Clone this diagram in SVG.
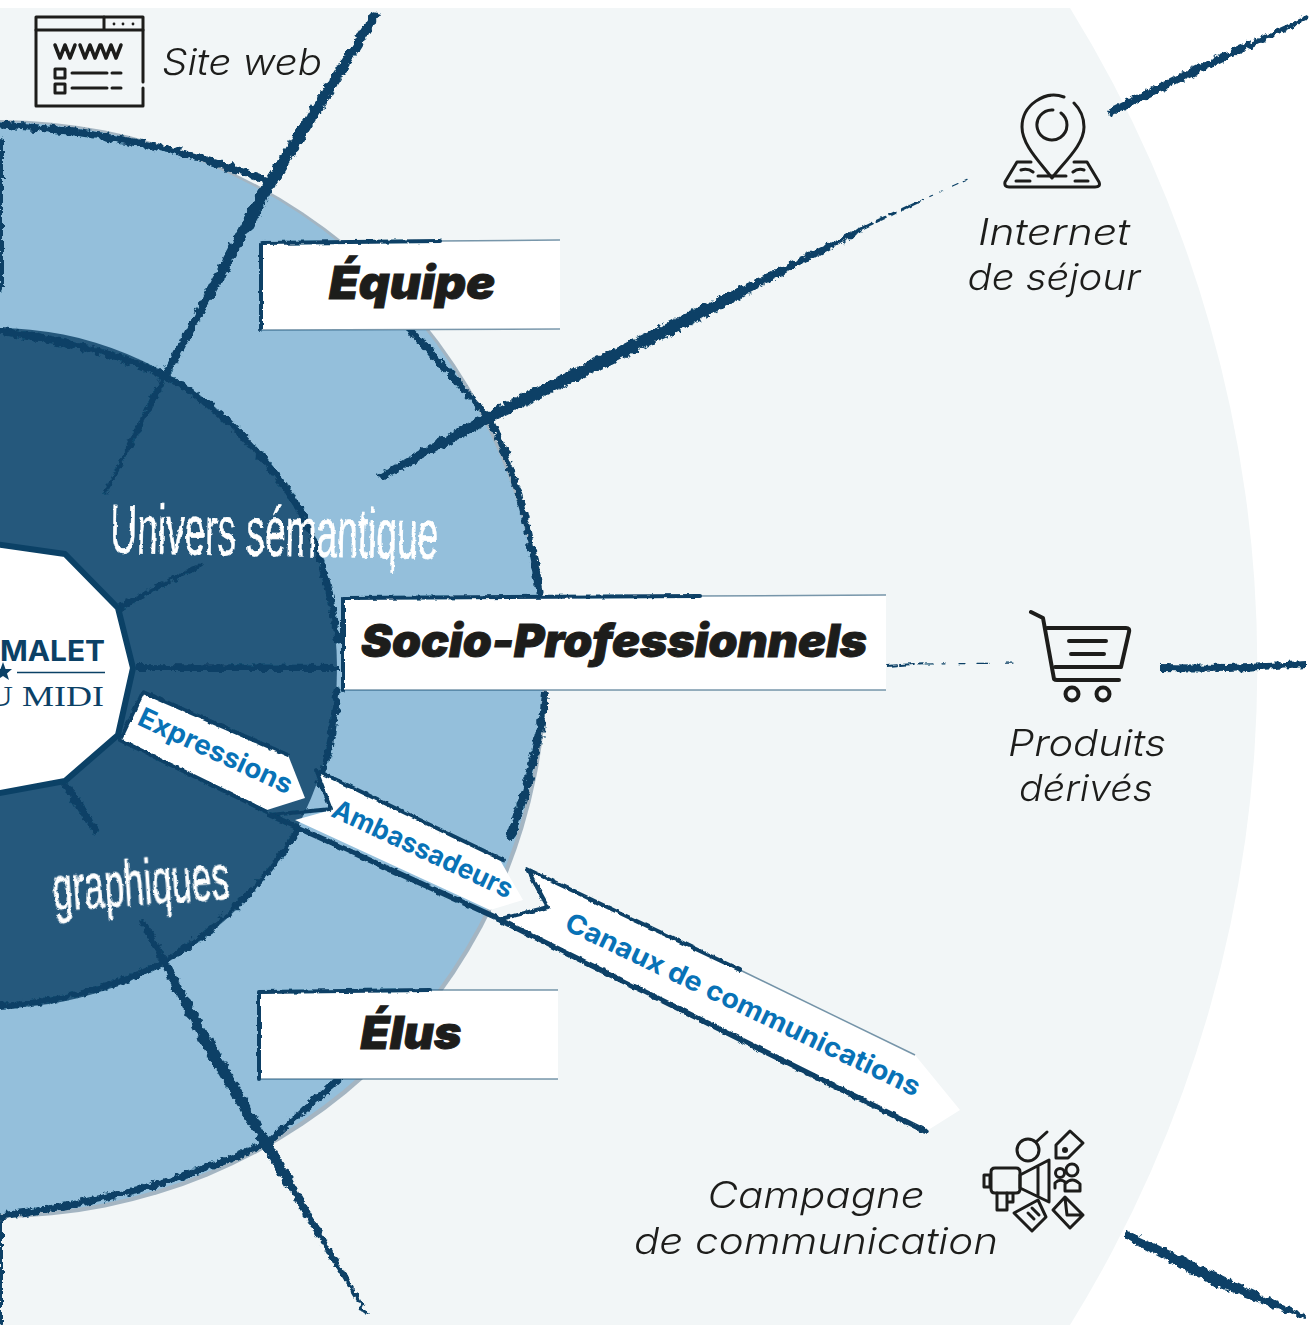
<svg xmlns="http://www.w3.org/2000/svg" width="1310" height="1325" viewBox="0 0 1310 1325">
<style>
.ink{fill:#0b4166}
.ln{fill:none;stroke:#0b4166;stroke-linecap:round;stroke-linejoin:round}
.fade{fill:none;stroke:#0b4166;stroke-width:1.500;stroke-opacity:.55}
.ic{fill:none;stroke:#1d1d1b;stroke-linecap:round;stroke-linejoin:round}
.lab{font-family:Inter,"Liberation Sans",sans-serif;font-style:italic;font-weight:300;font-size:37px;fill:#1d1d1b;text-anchor:middle}
.hd{font-family:Inter,"Liberation Sans",sans-serif;font-style:italic;font-weight:900;font-size:45px;fill:#1d1d1b;text-anchor:middle;stroke:#1d1d1b;stroke-width:1}
.tag{font-family:Inter,"Liberation Sans",sans-serif;font-weight:700;font-size:27px;fill:#0872b6}
.brush{font-family:"Liberation Sans Narrow","Liberation Sans",sans-serif;fill:#fff;stroke:#fff;stroke-width:.6}
</style>
<defs>
<filter id="rough" filterUnits="userSpaceOnUse" x="0" y="0" width="1310" height="1325">
<feTurbulence type="fractalNoise" baseFrequency="0.16" numOctaves="4" seed="4"/>
<feDisplacementMap in="SourceGraphic" scale="8" xChannelSelector="R" yChannelSelector="G"/>
</filter>
<filter id="soft" filterUnits="userSpaceOnUse" x="0" y="0" width="1310" height="1325">
<feTurbulence type="fractalNoise" baseFrequency="0.14" numOctaves="3" seed="9"/>
<feDisplacementMap in="SourceGraphic" scale="3.500" xChannelSelector="R" yChannelSelector="G"/>
</filter>
</defs>

<g id="rings">
<rect width="1310" height="1325" fill="#fff"/>
<path d="M0 8H1070A1251 1251 0 0 1 1070 1325H0Z" fill="#f2f6f7"/>
<circle cx="-2" cy="669" r="549" fill="#a4b5c2"/>
<circle cx="-3" cy="668" r="546" fill="#94bfdb"/>
<circle cx="-3" cy="668" r="340" fill="#25587c"/>
</g>

<g id="connectors" filter="url(#rough)">
<!-- outer ring outline -->
<path class="ln" stroke-width="7" d="M0 125C95 130 190 150 270 182"/>
<path class="ln" stroke-width="7" d="M410 330L490 418C515 470 530 530 540 592"/>
<path class="ln" stroke-width="8" d="M545 695C540 745 525 795 510 838"/>
<path class="ln" stroke-width="7" d="M340 1078L268 1142C190 1180 90 1205 0 1216"/>
<!-- inner ring outline -->
<path class="ln" stroke-width="7" d="M0 331C60 340 115 352 165 376C220 405 270 460 300 510C320 550 332 590 337 640"/>
<path class="ln" stroke-width="7" d="M337 690C335 720 330 750 320 785"/>
<path class="ln" stroke-width="6" d="M298 830C260 890 210 935 165 962C110 990 50 1003 0 1006"/>
<!-- left edge -->
<path class="ln" stroke-width="4" d="M1 140V290"/>
<path class="ln" stroke-width="4" d="M1 1220V1322"/>
<!-- spokes -->
<polygon class="ink" points="372,12 381,14 273,190 168,378 106,494 104,492 162,374 263,182"/>
<polygon class="ink" points="1306,16 1308,20 1202,72 1112,116 1107,110 1195,66"/>
<polygon class="ink" points="860,228 862,232 690,326 492,422 384,479 376,476 486,412 680,316"/>
<polygon class="ink" points="1160,664 1230,665 1306,661 1306,667 1230,672 1160,671"/>
<polygon class="ink" points="1126,1230 1215,1272 1307,1316 1305,1320 1210,1284 1124,1238"/>
<polygon class="ink" points="140,922 145,920 212,1040 273,1145 368,1314 366,1316 264,1150 204,1050"/>
<polygon class="ink" points="135,664 338,665 338,671 135,671"/>
<polygon class="ink" points="118,604 200,563 202,566 120,611"/>
<polygon class="ink" points="60,784 68,780 100,832 96,836"/>
</g>
<g id="dash-lines" filter="url(#soft)">
<path class="ln" stroke-width="2" stroke-dasharray="9 3 14 5 4 9 12 6" d="M888 666L925 663"/>
<path class="ln" stroke-width="1.200" stroke-dasharray="8 9 3 14 6 12 12 16" d="M925 664L1016 663"/>
<path class="ln" stroke-width="3" stroke-dasharray="16 5 9 6 5 8" d="M858 230L918 202"/>
<path class="ln" stroke-width="1.200" stroke-dasharray="6 7 3 8 2 12" d="M918 202L970 178"/>
</g>

<g id="center">
<path d="M-5 544L65 554L118 608L133 668L118 735L65 781L-5 794Z" fill="#fff" stroke="#0b4166" stroke-width="6" stroke-linejoin="round"/>
<text x="0" y="661" font-family="Inter,'Liberation Sans',sans-serif" font-weight="700" font-size="29" fill="#0b4166" textLength="105" lengthAdjust="spacingAndGlyphs">MALET</text>
<polygon points="3,662 5.500,669 12,669 7,673.500 9,680 3,676 -3,680 -1,673.500 -6,669 0.500,669" fill="#0b4166"/>
<line x1="17" y1="672.500" x2="105" y2="672.500" stroke="#0b4166" stroke-width="1.500"/>
<text x="-13" y="706" font-family="'Liberation Serif',serif" font-size="30" fill="#0b4166" textLength="117" lengthAdjust="spacingAndGlyphs">U MIDI</text>
</g>

<g id="node-equipe">
<path d="M261 242L560 240V330L261 330Z" fill="#fff"/>
<path class="ln" stroke-width="4" filter="url(#soft)" d="M261 330V243L440 241"/>
<path class="fade" d="M440 241L560 240M261 330L560 329"/>
<text class="hd" x="412" y="299" textLength="166" lengthAdjust="spacingAndGlyphs">Équipe</text>
</g>
<g id="node-socio">
<path d="M343 597L886 595V690L343 690Z" fill="#fff"/>
<path class="ln" stroke-width="4" filter="url(#soft)" d="M343 690V598L700 596"/>
<path class="fade" d="M700 596L886 595M343 690L886 690"/>
<text class="hd" x="614" y="657" textLength="506" lengthAdjust="spacingAndGlyphs">Socio-Professionnels</text>
</g>
<g id="node-elus">
<path d="M259 991L558 990V1079L259 1079Z" fill="#fff"/>
<path class="ln" stroke-width="4" filter="url(#soft)" d="M259 1079V992L430 990"/>
<path class="fade" d="M430 990L558 990M259 1079L558 1079"/>
<text class="hd" x="411" y="1049" textLength="101" lengthAdjust="spacingAndGlyphs">Élus</text>
</g>

<g id="node-expressions">
<polygon points="143,692 288,755 305,798 267,810 120,740" fill="#fff"/>
<path class="ln" stroke-width="4" filter="url(#soft)" d="M120 740L143 692L288 755M120 740L267 812"/>
<text class="tag" transform="translate(136 724) rotate(25)" textLength="167" lengthAdjust="spacingAndGlyphs">Expressions</text>
</g>
<g id="node-ambassadeurs">
<polygon points="316,770 500,860 523,900 490,910 295,820 331,810" fill="#fff"/>
<path class="ln" stroke-width="4" filter="url(#soft)" d="M270 815L331 809L316 770L503 860"/>
<path class="ln" stroke-width="5.500" filter="url(#soft)" d="M270 815L495 917"/>
<text class="tag" transform="translate(330 816) rotate(25)" textLength="196" lengthAdjust="spacingAndGlyphs">Ambassadeurs</text>
</g>
<g id="node-canaux">
<polygon points="527,868 915,1055 960,1110 925,1132 500,922 548,907" fill="#fff"/>
<path class="ln" stroke-width="4" filter="url(#soft)" d="M497 920L548 907L527 869L740 970"/>
<path class="fade" d="M740 970L915 1055"/>
<path class="ln" stroke-width="5.500" filter="url(#soft)" d="M500 920L925 1131"/>
<text class="tag" transform="translate(563 929) rotate(25.500)" textLength="390" lengthAdjust="spacingAndGlyphs">Canaux de communications</text>
</g>

<g id="titles" filter="url(#soft)">
<text class="brush" transform="translate(110 553) rotate(1)" font-size="70" textLength="328" lengthAdjust="spacingAndGlyphs">Univers sémantique</text>
<text class="brush" transform="translate(54 911) rotate(-4)" font-size="64" textLength="177" lengthAdjust="spacingAndGlyphs">graphiques</text>
</g>

<g id="node-site">
<g class="ic" stroke-width="3">
<path d="M143 88V106H36V17H143V82"/>
<path d="M36 30H143M104 17V30"/>
<path d="M55 45L60 58L65 45L70 58L75 45M80 45L85 58L90 45L95 58L100 45M101 45L106 58L111 45L116 58L121 45" stroke-width="3.500"/>
<rect x="55" y="69" width="10" height="9"/><rect x="55" y="84" width="10" height="9"/>
<path d="M72 73H107M112 73H121M72 88H107M112 88H121"/>
</g>
<circle cx="114" cy="24" r="1.400" fill="#1d1d1b"/><circle cx="123" cy="24" r="1.400" fill="#1d1d1b"/><circle cx="133" cy="24" r="1.400" fill="#1d1d1b"/>
<text class="lab" x="242" y="75" textLength="160" lengthAdjust="spacingAndGlyphs">Site web</text>
</g>

<g id="node-internet">
<g class="ic" stroke-width="3">
<path d="M1064 97C1045 90 1022 105 1022 127C1022 145 1040 162 1052 178C1064 162 1084 145 1084 127C1084 116 1079 108 1074 103"/>
<path d="M1061 113A15 15 0 1 1 1053 110"/>
<path d="M1031 162H1017L1005 182Q1004 187 1009 187H1095Q1101 187 1099 182L1087 162H1074"/>
<path d="M1021 170Q1028 168 1033 172M1016 181H1030M1038 176H1066M1073 172Q1078 168 1084 170M1075 181H1088"/>
</g>
<text class="lab" x="1054" y="245" textLength="152" lengthAdjust="spacingAndGlyphs">Internet</text>
<text class="lab" x="1054" y="290" textLength="173" lengthAdjust="spacingAndGlyphs">de séjour</text>
</g>

<g id="node-produits">
<g class="ic" stroke-width="4">
<path d="M1031 612L1043 618L1054 679Q1055 680 1057 680H1119"/>
<path d="M1047 628H1126Q1130 628 1129 632L1121 667H1055"/>
<path d="M1069 641H1106M1071 654H1104"/>
<circle cx="1072" cy="694" r="6.500"/><circle cx="1103" cy="694" r="6.500"/>
</g>
<text class="lab" x="1087" y="756" textLength="158" lengthAdjust="spacingAndGlyphs">Produits</text>
<text class="lab" x="1086" y="801" textLength="134" lengthAdjust="spacingAndGlyphs">dérivés</text>
</g>

<g id="node-campagne">
<g class="ic" stroke-width="3">
<circle cx="1028" cy="1150" r="11"/><path d="M1036 1142L1047 1132"/>
<path d="M1070 1131L1083 1143L1068 1158H1056V1145Z"/><circle cx="1065" cy="1150" r="1.500"/>
<rect x="984" y="1175" width="6" height="12"/>
<path d="M991 1172Q991 1168 995 1168H1016Q1020 1168 1020 1172V1189Q1020 1193 1016 1193H995Q991 1193 991 1189Z"/>
<path d="M1020 1175L1049 1160V1202L1020 1188Z M1038 1166V1196"/>
<path d="M997 1193V1210H1007V1193M1007 1202H1013V1194"/>
<circle cx="1060" cy="1173" r="4.500"/><circle cx="1072" cy="1170" r="6"/>
<path d="M1055 1188V1183Q1060 1178 1065 1182M1065 1191V1184Q1072 1176 1080 1184V1191Z"/>
<path d="M1038 1200L1046 1217L1032 1231L1014 1213Z M1028 1213L1034 1219M1032 1208L1039 1215"/>
<path d="M1065 1197L1083 1215L1070 1228L1053 1210Z M1065 1198L1067 1215H1083"/>
</g>
<text class="lab" x="816" y="1208" textLength="217" lengthAdjust="spacingAndGlyphs">Campagne</text>
<text class="lab" x="816" y="1254" textLength="364" lengthAdjust="spacingAndGlyphs">de communication</text>
</g>
</svg>
